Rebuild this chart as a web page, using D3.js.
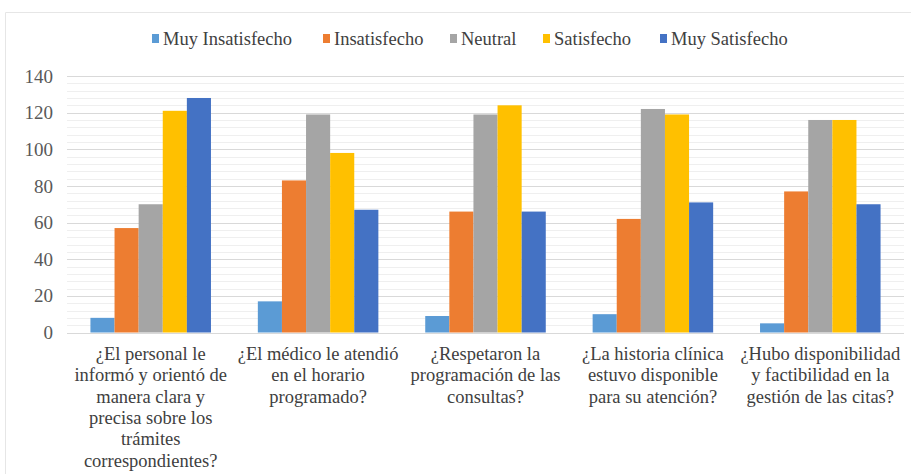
<!DOCTYPE html>
<html>
<head>
<meta charset="utf-8">
<script src="https://cdn.jsdelivr.net/npm/d3@7"></script>
<style>
  body { margin: 0; background: #fff; }
  text { font-family: "Liberation Serif", "Times New Roman", serif; }
</style>
</head>
<body>
<script>
var categories = [
  ["¿El personal le", "informó y orientó de", "manera clara y", "precisa sobre los", "trámites", "correspondientes?"],
  ["¿El médico le atendió", "en el horario", "programado?"],
  ["¿Respetaron la", "programación de las", "consultas?"],
  ["¿La historia clínica", "estuvo disponible", "para su atención?"],
  ["¿Hubo disponibilidad", "y factibilidad en la", "gestión de las citas?"]
];
var seriesNames = ["Muy Insatisfecho", "Insatisfecho", "Neutral", "Satisfecho", "Muy Satisfecho"];
var muyInsatisfecho = [8, 17, 9, 10, 5];
var insatisfecho = [57, 83, 66, 62, 77];
var neutral = [70, 119, 119, 122, 116];
var satisfecho = [121, 98, 124, 119, 116];
var muySatisfecho = [128, 67, 66, 71, 70];
var yTicks = [0, 20, 40, 60, 80, 100, 120, 140];
var colors = ["#5B9BD5", "#ED7D31", "#A5A5A5", "#FFC000", "#4472C4"];

var series = [muyInsatisfecho, insatisfecho, neutral, satisfecho, muySatisfecho];

var W = 911, H = 474;
var svg = d3.select("body").append("svg")
  .attr("width", W)
  .attr("height", H);

// chart frame
svg.append("path")
  .attr("d", "M5.5,474 V12.5 H911")
  .attr("fill", "none")
  .attr("stroke", "#e6e6e6");

var plotLeft = 67, plotRight = 904, plotTop = 76, plotBottom = 332.5;

var x = d3.scaleBand()
  .domain(d3.range(categories.length))
  .range([plotLeft, plotRight])
  .paddingInner(0.28)
  .paddingOuter(0.14);

var xs = d3.scaleBand()
  .domain(d3.range(series.length))
  .range([0, x.bandwidth()]);

var y = d3.scaleLinear()
  .domain([0, 140])
  .range([plotBottom, plotTop]);

// minor gridlines
svg.append("g").selectAll("line")
  .data(d3.range(0, 141, 4).filter(function(d) { return d % 20 !== 0; }))
  .enter().append("line")
  .attr("x1", plotLeft).attr("x2", plotRight)
  .attr("y1", function(d) { return Math.round(y(d)) + 0.5; })
  .attr("y2", function(d) { return Math.round(y(d)) + 0.5; })
  .attr("stroke", "#efefef");

// major gridlines
svg.append("g").selectAll("line")
  .data(yTicks)
  .enter().append("line")
  .attr("x1", plotLeft).attr("x2", plotRight)
  .attr("y1", function(d) { return Math.round(y(d)) + 0.5; })
  .attr("y2", function(d) { return Math.round(y(d)) + 0.5; })
  .attr("stroke", "#d9d9d9");

// y axis labels
var yAxis = svg.append("g")
  .attr("transform", "translate(" + (plotLeft - 14) + ",0)")
  .call(d3.axisLeft(y).tickValues(yTicks).tickSize(0).tickPadding(0));
yAxis.select(".domain").remove();
yAxis.selectAll("text")
  .attr("font-family", "Liberation Serif")
  .attr("font-size", 19)
  .attr("fill", "#595959");

// bars
var groups = svg.append("g").selectAll("g")
  .data(series)
  .enter().append("g")
  .attr("fill", function(d, i) { return colors[i]; });

groups.selectAll("rect")
  .data(function(d, i) { return d.map(function(v, j) { return { s: i, c: j, v: v }; }); })
  .enter().append("rect")
  .attr("x", function(d) { return x(d.c) + xs(d.s); })
  .attr("width", xs.bandwidth())
  .attr("y", function(d) { return y(d.v); })
  .attr("height", function(d) { return plotBottom - y(d.v); });

// x labels
var xl = svg.append("g").selectAll("text")
  .data(categories)
  .enter().append("text")
  .attr("text-anchor", "middle")
  .attr("font-size", 18.5)
  .attr("fill", "#404040")
  .attr("x", function(d, i) { return x(i) + x.bandwidth() / 2; })
  .attr("y", 360);

xl.selectAll("tspan")
  .data(function(d) { return d; })
  .enter().append("tspan")
  .attr("x", function() { return d3.select(this.parentNode).attr("x"); })
  .attr("dy", function(d, i) { return i === 0 ? 0 : 21.3; })
  .text(function(d) { return d; });

// legend
var legendX = [152, 323, 450, 543, 660];
var legend = svg.append("g").selectAll("g")
  .data(seriesNames)
  .enter().append("g")
  .attr("transform", function(d, i) { return "translate(" + legendX[i] + ",39)"; });

legend.append("rect")
  .attr("x", 0).attr("y", -5)
  .attr("width", 7).attr("height", 9)
  .attr("fill", function(d, i) { return colors[i]; });

legend.append("text")
  .attr("x", 11)
  .attr("y", 6)
  .attr("font-size", 18.5)
  .attr("fill", "#404040")
  .text(function(d) { return d; });
</script>
</body>
</html>
